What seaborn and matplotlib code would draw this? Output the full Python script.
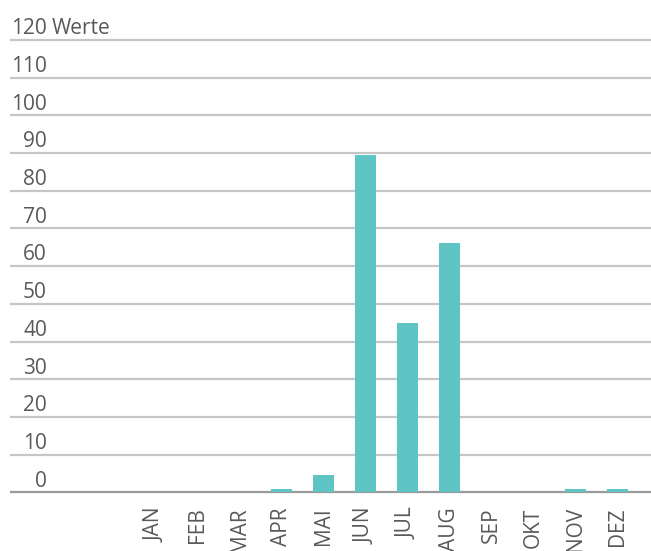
import matplotlib
matplotlib.use("Agg")
import matplotlib.pyplot as plt
import seaborn as sns
import pandas as pd

# Monthly values
months = ["JAN", "FEB", "MAR", "APR", "MAI", "JUN", "JUL", "AUG", "SEP", "OKT", "NOV", "DEZ"]
values = [0, 0, 0, 1, 4.5, 89.5, 45, 66, 0, 0, 1, 1]
y_ticks = [0, 10, 20, 30, 40, 50, 60, 70, 80, 90, 100, 110, 120]
unit_label = "Werte"

sns.set_style("white")
plt.rcParams["font.family"] = ["Open Sans", "DejaVu Sans"]

df = pd.DataFrame({"month": months, "value": values})

W, H = 651, 551
fig = plt.figure(figsize=(W / 100, H / 100), dpi=100)

# axes placed in pixel terms: left 10px, right edge of figure, zero line at y=492
px_per_unit = 3.77
y_lo, y_hi = -1, 122
zero_px = H - 492.3
bottom_px = zero_px + y_lo * px_per_unit
top_px = zero_px + y_hi * px_per_unit
ax = fig.add_axes([10 / W, bottom_px / H, (W - 10) / W, (top_px - bottom_px) / H])

sns.barplot(data=df, x="month", y="value", color="#5fc5c4", width=0.5,
            saturation=1, linewidth=0, ax=ax, zorder=3)

ax.set_ylim(y_lo, y_hi)
ax.set_xlim(-3.464, 11.798)
for s in ax.spines.values():
    s.set_visible(False)

lab_x = (47 - 10) / (W - 10)
for t in y_ticks:
    col = "#9a9a9a" if t == 0 else "#c6c6c6"
    ax.axhline(t, color=col, lw=1.6, zorder=1)
    ax.text(lab_x, t + 1.5, str(t), transform=ax.get_yaxis_transform(),
            ha="right", va="baseline", fontsize=15, color="#595959")
ax.text(lab_x + 0.007, y_ticks[-1] + 1.5, unit_label, transform=ax.get_yaxis_transform(),
        ha="left", va="baseline", fontsize=15, color="#595959")

ax.set_yticks([])
ax.set_xlabel("")
ax.set_ylabel("")
ax.tick_params(axis="x", length=0, pad=8, labelsize=15, labelcolor="#595959")
plt.setp(ax.get_xticklabels(), rotation=90, ha="center", va="top")

fig.savefig("out.png", dpi=100)
